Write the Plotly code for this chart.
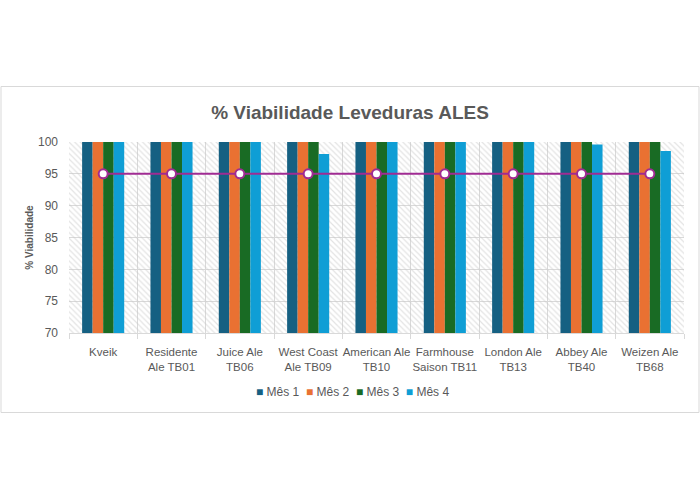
import plotly.graph_objects as go

categories = ["Kveik", "Residente<br>Ale TB01", "Juice Ale<br>TB06", "West Coast<br>Ale TB09",
              "American Ale<br>TB10", "Farmhouse<br>Saison TB11", "London Ale<br>TB13",
              "Abbey Ale<br>TB40", "Weizen Ale<br>TB68"]
mes1 = [100, 100, 100, 100, 100, 100, 100, 100, 100]
mes2 = [100, 100, 100, 100, 100, 100, 100, 100, 100]
mes3 = [100, 100, 100, 100, 100, 100, 100, 100, 100]
mes4 = [100, 100, 100, 98.1, 100, 100, 100, 99.6, 98.6]
meta = [95, 95, 95, 95, 95, 95, 95, 95, 95]
series_names = ["Mês 1", "Mês 2", "Mês 3", "Mês 4"]
colors = ["#156082", "#E97132", "#196B24", "#0F9ED5"]
y_ticks = [70, 75, 80, 85, 90, 95, 100]

FONT = "Liberation Sans"
GRAY = "#595959"

fig = go.Figure()

# hatched plot-area background
fig.add_trace(go.Bar(
    x=[categories[0]], y=[y_ticks[-1] - y_ticks[0]], base=[y_ticks[0]],
    offset=-0.5, width=len(categories),
    marker=dict(color="rgba(0,0,0,0)", line=dict(width=0),
                pattern=dict(shape="\\", fgcolor="#C8C8C8", size=4, solidity=0.3,
                             fillmode="overlay")),
    showlegend=False, hoverinfo="skip"))

bw = 0.154
for i, (name, vals, col) in enumerate(zip(series_names, [mes1, mes2, mes3, mes4], colors)):
    fig.add_trace(go.Bar(
        x=categories, y=[v - y_ticks[0] for v in vals], base=y_ticks[0],
        name=name, marker=dict(color=col, line=dict(width=0)),
        offset=-2 * bw + i * bw, width=bw))

fig.add_trace(go.Scatter(
    x=categories, y=meta, mode="lines+markers",
    line=dict(color="#A02B93", width=2),
    marker=dict(symbol="circle", size=9, color="white", line=dict(color="#A02B93", width=2)),
    showlegend=False, hoverinfo="skip"))

W, H = 700, 500
ml, mr, mt, mb = 69, 16, 142, 167
pw, ph = W - ml - mr, H - mt - mb

legend_text = "&nbsp;&nbsp;".join(
    f'<span style="color:{c}">■</span> {n}' for n, c in zip(series_names, colors))

fig.update_layout(
    width=W, height=H,
    barmode="overlay",
    paper_bgcolor="white", plot_bgcolor="white",
    margin=dict(l=ml, r=mr, t=mt, b=mb, pad=0),
    font=dict(family=FONT, color=GRAY, size=11),
    title=dict(text="<b>% Viabilidade Leveduras ALES</b>", x=0.5, xanchor="center",
               y=1 - 112 / H, yanchor="middle",
               font=dict(size=19, color=GRAY, family=FONT)),
    showlegend=False,
    annotations=[dict(text=legend_text, xref="paper", yref="paper",
                      x=(352 - ml) / pw, xanchor="center",
                      y=-(392 - mt - ph) / ph, yanchor="middle",
                      showarrow=False, font=dict(size=12, color=GRAY, family=FONT))],
    shapes=[dict(type="rect", xref="paper", yref="paper",
                 x0=(1 - ml) / pw, x1=(699 - ml) / pw,
                 y0=1 + (mt - 86.5) / ph, y1=-(412.5 - mt - ph) / ph,
                 line=dict(color="#D9D9D9", width=1), fillcolor="rgba(0,0,0,0)", layer="below")],
)

fig.update_xaxes(
    type="category", categoryorder="array", categoryarray=categories,
    range=[-0.5, len(categories) - 0.5], tickangle=0,
    tickson="boundaries", ticks="outside", ticklen=5, tickcolor="#D9D9D9",
    showgrid=True, gridcolor="#D9D9D9", gridwidth=1,
    showline=True, linecolor="#D9D9D9", linewidth=1,
    tickfont=dict(size=11.5, color=GRAY, family=FONT), ticklabelstandoff=8)

fig.update_yaxes(
    range=[y_ticks[0], y_ticks[-1]], tickvals=y_ticks,
    showgrid=True, gridcolor="#D9D9D9", gridwidth=1,
    zeroline=False, showline=False, ticks="",
    tickfont=dict(size=12, color=GRAY, family=FONT), ticklabelstandoff=10,
    title=dict(text="<b>% Viabilidade</b>", font=dict(size=10, color=GRAY), standoff=2))

fig.write_html("out.html", config={"displayModeBar": False},
               post_script="document.body.style.margin='0';")
